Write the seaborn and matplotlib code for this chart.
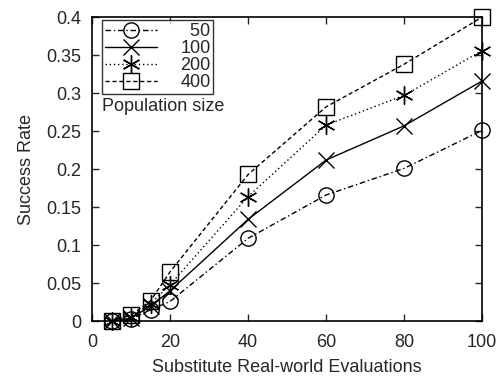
import numpy as np
import pandas as pd
import seaborn as sns
import matplotlib.pyplot as plt
from matplotlib.ticker import FuncFormatter

evals = [5, 10, 15, 20, 40, 60, 80, 100]
pop_sizes = ['50', '100', '200', '400']
rate_50 = [0, 0.003, 0.015, 0.026, 0.109, 0.166, 0.201, 0.251]
rate_100 = [0, 0.004, 0.020, 0.040, 0.134, 0.212, 0.257, 0.316]
rate_200 = [0, 0.006, 0.023, 0.048, 0.164, 0.258, 0.297, 0.356]
rate_400 = [0, 0.008, 0.027, 0.065, 0.193, 0.282, 0.338, 0.400]

sns.set_style('ticks')
plt.rcParams['font.family'] = ['Liberation Sans', 'DejaVu Sans']
plt.rcParams['font.size'] = 13

df = pd.DataFrame({
    'evals': evals * 4,
    'rate': rate_50 + rate_100 + rate_200 + rate_400,
    'pop': np.repeat(pop_sizes, len(evals)),
})

asterisk = (6, 2, 0)
styles = {
    '50': dict(linestyle=(0, (4, 2, 1, 2)), marker='o', mfc='none', ms=11),
    '100': dict(linestyle='-', marker='x', ms=12, mew=1.0),
    '200': dict(linestyle=(0, (1, 2)), marker=asterisk, ms=13, mew=1.0),
    '400': dict(linestyle=(0, (3, 2)), marker='s', mfc='none', ms=11),
}

fig = plt.figure(figsize=(4.98, 3.81), dpi=100)
ax = fig.add_axes([0.185, 0.157, 0.783, 0.798])

for p in pop_sizes:
    sub = df[df['pop'] == p]
    st = styles[p]
    sns.lineplot(data=sub, x='evals', y='rate', ax=ax, color='black', lw=1.0,
                 linestyle=st['linestyle'], marker=st['marker'],
                 markersize=st['ms'], markerfacecolor=st.get('mfc', 'black'),
                 markeredgecolor='black', markeredgewidth=st.get('mew', 1.0),
                 label='\u2007' * (3 - len(p)) + p, clip_on=False, zorder=3)

ax.set_xlim(0, 100)
ax.set_ylim(0, 0.4)
ax.set_xticks([0, 20, 40, 60, 80, 100])
ax.set_yticks(np.arange(0, 0.401, 0.05))
ax.yaxis.set_major_formatter(FuncFormatter(lambda v, _: f'{v:g}' if v else '0'))
ax.tick_params(direction='in', top=True, right=True, length=5, width=1,
               labelsize=13)
ax.tick_params(axis='x', pad=9)
ax.tick_params(axis='y', pad=8)
for s in ax.spines.values():
    s.set_linewidth(1.2)
    s.set_color('black')
ax.set_xlabel('Substitute Real-world Evaluations', fontsize=13, labelpad=6)
ax.set_ylabel('Success Rate', fontsize=13, labelpad=8)

# gnuplot-like key box, title sits below it
leg = ax.legend(loc='upper left', bbox_to_anchor=(0.025, 0.99), frameon=True,
                fancybox=False, edgecolor='black', handlelength=2.9,
                handletextpad=1.3, borderpad=0.15, labelspacing=0.0,
                borderaxespad=0, fontsize=13)
leg.get_frame().set_linewidth(1.0)
ax.text(0.025, 0.735, 'Population size', transform=ax.transAxes,
        fontsize=13, va='top', ha='left')

fig.savefig('out.png', dpi=100)
